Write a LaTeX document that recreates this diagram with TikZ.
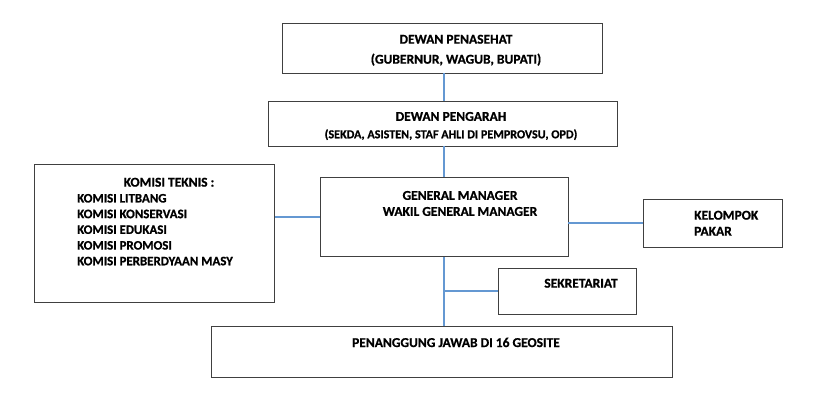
\documentclass[tikz,border=0pt]{standalone}
\usepackage{fontspec}
\setmainfont{Carlito}[BoldFont={Carlito Bold}, BoldFeatures={FakeBold=0.8}]
\definecolor{linkblue}{RGB}{100,152,210}
\tikzset{
	box/.style={draw=black!75, line width=0.9pt, rectangle, inner sep=0pt},
	link/.style={line width=1.6pt, color=linkblue},
	txt/.style={inner sep=0pt, font=\bfseries\fontsize{13.5}{16}\selectfont, align=center, anchor=north}
}

\begin{document}
\begin{tikzpicture}[x=1pt, y=-1pt]
			%%%%% START %%%%%
			\useasboundingbox (0, 0) rectangle (830, 402);
			
			\node[box, minimum width=320, minimum height=50] (penasehat) at (442.5, 48) {};
			\node[box, minimum width=349, minimum height=45] (pengarah) at (442.5, 123.5) {};
			\node[box, minimum width=240, minimum height=138] (komisi) at (154.5, 233) {};
			\node[box, minimum width=248, minimum height=79] (gm) at (444, 217) {};
			\node[box, minimum width=139, minimum height=48] (kelompok) at (712.5, 223) {};
			\node[box, minimum width=138, minimum height=46] (sekretariat) at (567, 291) {};
			\node[box, minimum width=461, minimum height=51] (pj) at (441.5, 351.5) {};
			
			\node[txt, font=\bfseries\fontsize{13.5}{20}\selectfont] (penasehat-txt) at (456, 34.6) {DEWAN PENASEHAT\\(GUBERNUR, WAGUB, BUPATI)};
			\node[txt, font=\bfseries\fontsize{13.5}{17.4}\selectfont] (pengarah-txt) at (451, 111.8) {DEWAN PENGARAH\\{\fontsize{12.1}{17.4}\selectfont(SEKDA, ASISTEN, STAF AHLI DI PEMPROVSU, OPD)}};
			\node[txt] (komisi-txt) at (169, 177.6) {KOMISI TEKNIS :};
			\node[txt, anchor=north west, align=left, font=\bfseries\fontsize{12.9}{15.7}\selectfont] (komisi-list) at (77, 193.8) {KOMISI LITBANG\\KOMISI KONSERVASI\\KOMISI EDUKASI\\KOMISI PROMOSI\\KOMISI PERBERDYAAN MASY};
			\node[txt] (gm-txt) at (460, 190.8) {GENERAL MANAGER\\WAKIL GENERAL MANAGER};
			\node[txt, anchor=north west, align=left] (kelompok-txt) at (694, 210.6) {KELOMPOK\\PAKAR};
			\node[txt] (sekretariat-txt) at (581, 278.6) {SEKRETARIAT};
			\node[txt] (pj-txt) at (456, 337.6) {PENANGGUNG JAWAB DI 16 GEOSITE};
			
			\draw[link] (penasehat.south -| gm.north) -- (pengarah.north -| gm.north);
			\draw[link] (pengarah.south -| gm.north) -- (gm.north);
			\draw[link] (gm.west) -- (gm.west -| komisi.east);
			\draw[link] (kelompok.west) -- (kelompok.west -| gm.east);
			\draw[link] (gm.south) -- (gm.south |- pj.north);
			\draw[link] (gm.south |- sekretariat.west) -- (sekretariat.west);
			
			%%%%% END %%%%%
\end{tikzpicture}
\end{document}
